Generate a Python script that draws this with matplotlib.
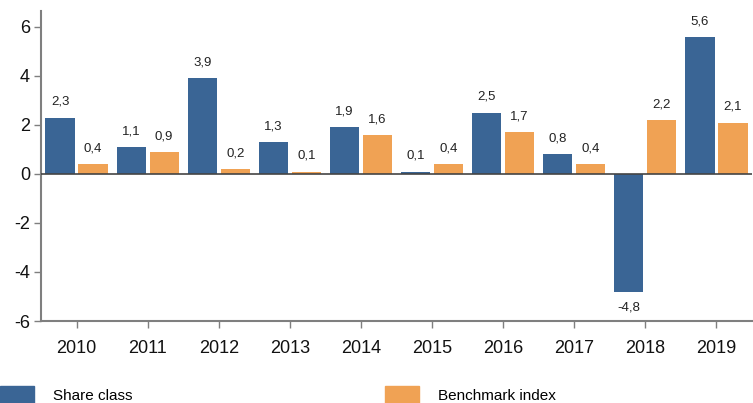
import matplotlib
matplotlib.use('Agg')
import matplotlib.pyplot as plt
import numpy as np
from matplotlib.patches import Patch

years = ['2010', '2011', '2012', '2013', '2014', '2015', '2016', '2017', '2018', '2019']
share_class = [2.3, 1.1, 3.9, 1.3, 1.9, 0.1, 2.5, 0.8, -4.8, 5.6]
benchmark = [0.4, 0.9, 0.2, 0.1, 1.6, 0.4, 1.7, 0.4, 2.2, 2.1]

BLUE = '#3a6595'
ORANGE = '#f0a254'
GRAY = '#7f7f7f'

plt.rcParams['font.family'] = ['Liberation Sans', 'DejaVu Sans']
plt.rcParams['axes.unicode_minus'] = False

fig = plt.figure(figsize=(7.53, 4.03), dpi=100)
ax = fig.add_axes([41 / 753, 82 / 403, 711 / 753, 310 / 403])

x = np.arange(len(years))
w = 0.41
off = 0.232
b1 = ax.bar(x - off, share_class, w, color=BLUE, zorder=2)
b2 = ax.bar(x + off, benchmark, w, color=ORANGE, zorder=2)

def fmt(v):
    return ('%.1f' % v).replace('.', ',')

for bars, vals in ((b1, share_class), (b2, benchmark)):
    for r, v in zip(bars, vals):
        cx = r.get_x() + r.get_width() / 2
        if v >= 0:
            ax.annotate(fmt(v), (cx, v), xytext=(0, 7), textcoords='offset points',
                        ha='center', va='bottom', fontsize=9.5, color='#222222')
        else:
            ax.annotate(fmt(v), (cx, v), xytext=(0, -7), textcoords='offset points',
                        ha='center', va='top', fontsize=9.5, color='#222222')

ax.axhline(0, color='#444444', lw=1.2, zorder=3)

ax.set_xlim(-0.5, len(years) - 0.5)
ax.set_ylim(-6, 6.65)
ax.set_yticks([-6, -4, -2, 0, 2, 4, 6])
ax.set_xticks(x)
ax.set_xticklabels(years)

for s in ('top', 'right'):
    ax.spines[s].set_visible(False)
for s in ('left', 'bottom'):
    ax.spines[s].set_color(GRAY)
    ax.spines[s].set_linewidth(1.5)

ax.tick_params(axis='both', colors=GRAY, labelcolor='#111111', labelsize=13,
               length=5, width=1)
ax.tick_params(axis='x', pad=9)
ax.tick_params(axis='y', pad=3)

leg_kw = dict(frameon=False, fontsize=11, handlelength=2.2, handleheight=1.35,
              handletextpad=1.3, borderpad=0, borderaxespad=0)
fig.legend(handles=[Patch(color=BLUE, label='Share class')], loc='lower left',
           bbox_to_anchor=(0.0, 0.0), **leg_kw)
fig.legend(handles=[Patch(color=ORANGE, label='Benchmark index')], loc='lower left',
           bbox_to_anchor=(385 / 753, 0.0), **leg_kw)

fig.savefig('out.png', dpi=100)
